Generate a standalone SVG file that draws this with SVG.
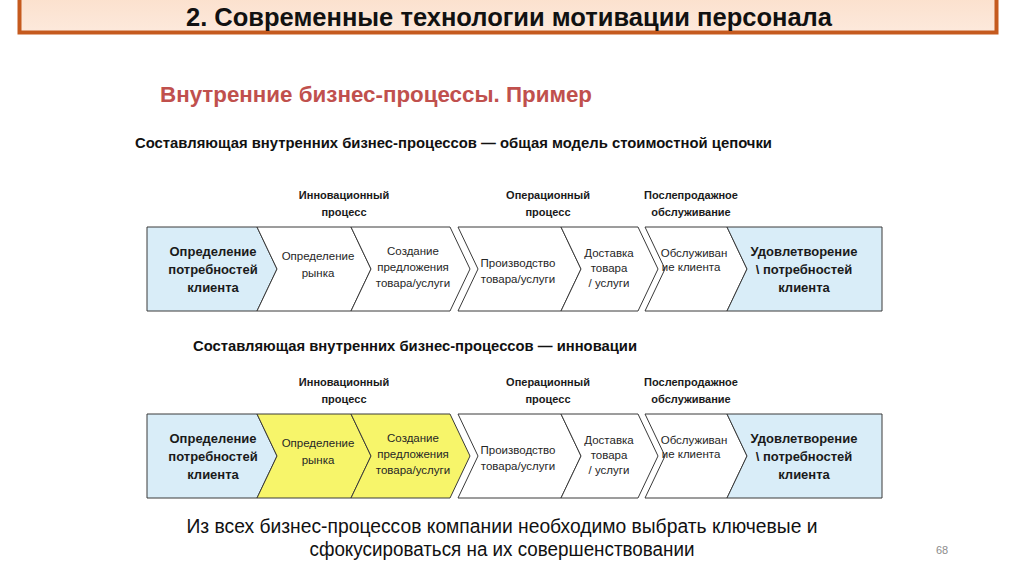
<svg xmlns="http://www.w3.org/2000/svg" width="1024" height="574" viewBox="0 0 1024 574">
<defs>
<style>
.ch{stroke:#3a3a3a;stroke-width:1;stroke-linejoin:miter}
.w{fill:#ffffff}
.b{fill:#d9edf8}
.y{fill:#f7f56a}
.t{font-family:"Liberation Sans",Arial,sans-serif;font-size:11.5px;fill:#262626;text-anchor:middle}
.tb{font-family:"Liberation Sans",Arial,sans-serif;font-size:13px;font-weight:bold;fill:#1a1a1a;text-anchor:middle}
.h{font-family:"Liberation Sans",Arial,sans-serif;font-size:11px;font-weight:bold;fill:#1a1a1a;text-anchor:middle}
.sub{font-family:"Liberation Sans",Arial,sans-serif;font-size:14px;font-weight:bold;fill:#111}
</style>
<linearGradient id="tg" x1="0" y1="0" x2="0" y2="1">
<stop offset="0" stop-color="#fbe0cc"/>
<stop offset="1" stop-color="#fde9dc"/>
</linearGradient>
</defs>
<rect width="1024" height="574" fill="#ffffff"/>
<g id="title">
<rect x="19.5" y="-6" width="977" height="38.5" fill="url(#tg)" stroke="#c55a1e" stroke-width="4"/>
<text x="509" y="26" font-family="Liberation Sans,Arial,sans-serif" font-size="25" font-weight="bold" fill="#111" text-anchor="middle" textLength="646" lengthAdjust="spacingAndGlyphs">2. Современные технологии мотивации персонала</text>
</g>
<g id="heading">
<text x="160" y="102" font-family="Liberation Sans,Arial,sans-serif" font-size="22" font-weight="bold" fill="#c0504d" textLength="432" lengthAdjust="spacingAndGlyphs">Внутренние бизнес-процессы. Пример</text>
</g>
<g id="sub1"><text class="sub" x="135" y="148" textLength="637" lengthAdjust="spacingAndGlyphs">Составляющая внутренних бизнес-процессов — общая модель стоимостной цепочки</text></g>
<g id="sub2"><text class="sub" x="193" y="351" textLength="444" lengthAdjust="spacingAndGlyphs">Составляющая внутренних бизнес-процессов — инновации</text></g>

<g id="chain1">
<g id="c1-labels">
<text class="h" x="344" y="199">Инновационный</text><text class="h" x="344" y="216">процесс</text>
<text class="h" x="548" y="199">Операционный</text><text class="h" x="548" y="216">процесс</text>
<text class="h" x="691" y="199">Послепродажное</text><text class="h" x="691" y="216">обслуживание</text>
</g>
<g id="c1-n1"><polygon class="ch b" points="147,227 257,227 277,269 257,311 147,311"/>
<text class="tb" x="213" y="256">Определение</text><text class="tb" x="213" y="274">потребностей</text><text class="tb" x="213" y="292">клиента</text></g>
<g id="c1-n2"><polygon class="ch w" points="257,227 351,227 371,269 351,311 257,311 277,269"/>
<text class="t" x="318" y="260">Определение</text><text class="t" x="318" y="277">рынка</text></g>
<g id="c1-n3"><polygon class="ch w" points="351,227 450,227 470,269 450,311 351,311 371,269"/>
<text class="t" x="413" y="255">Создание</text><text class="t" x="413" y="271">предложения</text><text class="t" x="413" y="287">товара/услуги</text></g>
<g id="c1-n4"><polygon class="ch w" points="458,227 561,227 581,269 561,311 458,311 478,269"/>
<text class="t" x="518" y="267">Производство</text><text class="t" x="518" y="283">товара/услуги</text></g>
<g id="c1-n5"><polygon class="ch w" points="561,227 638,227 658,269 638,311 561,311 581,269"/>
<text class="t" x="609" y="257">Доставка</text><text class="t" x="609" y="272">товара</text><text class="t" x="609" y="287">/ услуги</text></g>
<g id="c1-n6"><polygon class="ch w" points="645,227 727,227 747,269 727,311 645,311 665,269"/>
<text class="t" x="694" y="257">Обслуживан</text><text class="t" x="691" y="271">ие клиента</text></g>
<g id="c1-n7"><polygon class="ch b" points="727,227 882,227 882,311 727,311 747,269"/>
<text class="tb" x="804" y="256">Удовлетворение</text><text class="tb" x="804" y="274">\ потребностей</text><text class="tb" x="804" y="292">клиента</text></g>
</g>

<g id="chain2" transform="translate(0,187)">
<g id="c2-labels">
<text class="h" x="344" y="199">Инновационный</text><text class="h" x="344" y="216">процесс</text>
<text class="h" x="548" y="199">Операционный</text><text class="h" x="548" y="216">процесс</text>
<text class="h" x="691" y="199">Послепродажное</text><text class="h" x="691" y="216">обслуживание</text>
</g>
<g id="c2-n1"><polygon class="ch b" points="147,227 257,227 277,269 257,311 147,311"/>
<text class="tb" x="213" y="256">Определение</text><text class="tb" x="213" y="274">потребностей</text><text class="tb" x="213" y="292">клиента</text></g>
<g id="c2-n2"><polygon class="ch y" points="257,227 351,227 371,269 351,311 257,311 277,269"/>
<text class="t" x="318" y="260">Определение</text><text class="t" x="318" y="277">рынка</text></g>
<g id="c2-n3"><polygon class="ch y" points="351,227 450,227 470,269 450,311 351,311 371,269"/>
<text class="t" x="413" y="255">Создание</text><text class="t" x="413" y="271">предложения</text><text class="t" x="413" y="287">товара/услуги</text></g>
<g id="c2-n4"><polygon class="ch w" points="458,227 561,227 581,269 561,311 458,311 478,269"/>
<text class="t" x="518" y="267">Производство</text><text class="t" x="518" y="283">товара/услуги</text></g>
<g id="c2-n5"><polygon class="ch w" points="561,227 638,227 658,269 638,311 561,311 581,269"/>
<text class="t" x="609" y="257">Доставка</text><text class="t" x="609" y="272">товара</text><text class="t" x="609" y="287">/ услуги</text></g>
<g id="c2-n6"><polygon class="ch w" points="645,227 727,227 747,269 727,311 645,311 665,269"/>
<text class="t" x="694" y="257">Обслуживан</text><text class="t" x="691" y="271">ие клиента</text></g>
<g id="c2-n7"><polygon class="ch b" points="727,227 882,227 882,311 727,311 747,269"/>
<text class="tb" x="804" y="256">Удовлетворение</text><text class="tb" x="804" y="274">\ потребностей</text><text class="tb" x="804" y="292">клиента</text></g>
</g>

<g id="connectors"></g>

<g id="conclusion">
<text x="502" y="533" font-family="Liberation Sans,Arial,sans-serif" font-size="20" fill="#111" text-anchor="middle" textLength="631" lengthAdjust="spacingAndGlyphs">Из всех бизнес-процессов компании необходимо выбрать ключевые и</text>
<text x="502" y="556" font-family="Liberation Sans,Arial,sans-serif" font-size="20" fill="#111" text-anchor="middle" textLength="385" lengthAdjust="spacingAndGlyphs">сфокусироваться на их совершенствовании</text>
</g>
<g id="page"><text x="942" y="554" font-family="Liberation Sans,Arial,sans-serif" font-size="11" fill="#8c8c8c" text-anchor="middle">68</text></g>
</svg>
